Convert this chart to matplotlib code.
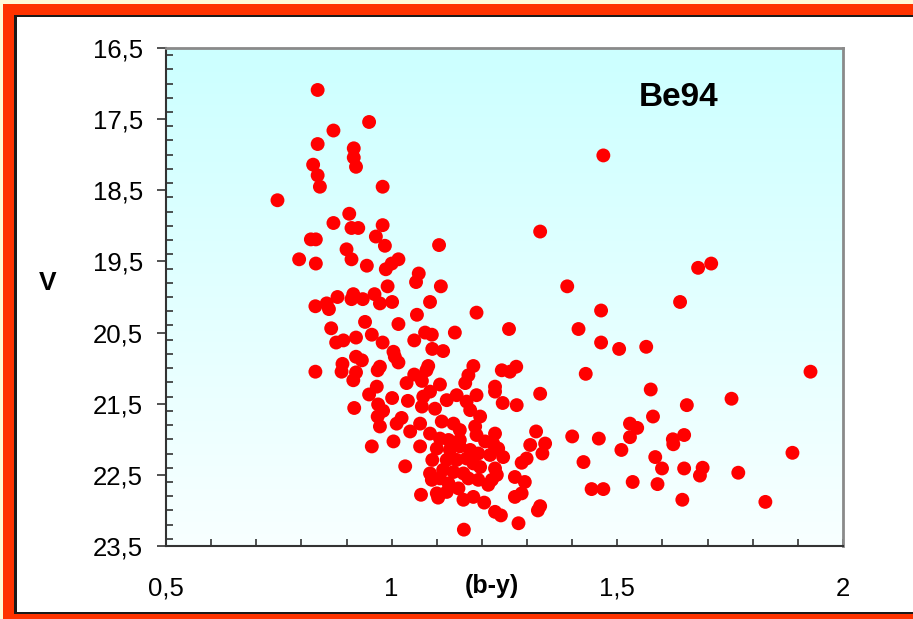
import numpy as np
import matplotlib
matplotlib.use("Agg")
import matplotlib.pyplot as plt
from matplotlib.patches import Rectangle
from matplotlib.ticker import MultipleLocator, FixedLocator, FixedFormatter

# ---- data (b-y colour, V magnitude) ----
b_y = [
    0.836, 0.950, 0.871, 0.836, 0.916, 0.916, 0.921, 0.826, 0.836, 0.841,
    0.980, 0.747, 0.906, 0.871, 0.911, 0.926, 0.980, 0.965, 0.821, 0.832,
    0.985, 1.105, 0.900, 0.911, 0.795, 0.832, 0.945, 1.015, 1.000, 0.987,
    1.060, 1.054, 0.991, 1.109, 0.831, 0.856, 0.861, 0.880, 0.915, 0.911,
    0.936, 0.962, 0.974, 1.001, 1.085, 1.188, 1.056, 0.866, 0.941, 1.015,
    0.956, 0.921, 0.877, 0.893, 0.980, 1.050, 1.074, 1.089, 1.140, 1.090,
    1.114, 1.004, 1.007, 1.015, 0.921, 0.934, 0.891, 0.889, 0.921, 0.915,
    0.974, 0.969, 0.831, 1.081, 1.077, 1.050, 1.033, 1.067, 1.107, 1.181,
    1.170, 1.163, 0.967, 0.950, 1.001, 1.036, 0.970, 0.917, 0.981, 0.969,
    0.974, 1.022, 1.011, 1.244, 1.262, 1.276, 1.229, 1.229, 1.246, 1.277,
    1.085, 1.070, 1.067, 1.096, 1.122, 1.144, 1.166, 1.174, 1.188, 1.196,
    1.041, 1.063, 1.111, 1.137, 1.151, 1.185, 1.085, 1.107, 1.126, 1.151,
    1.188, 1.229, 1.225, 1.207, 0.956, 1.004, 1.063, 1.100, 1.129, 1.151,
    1.174, 1.192, 1.218, 1.247, 1.236, 1.090, 1.122, 1.144, 1.166, 1.181,
    1.196, 1.030, 1.085, 1.114, 1.137, 1.159, 1.170, 1.229, 1.233, 1.222,
    1.214, 1.192, 1.089, 1.107, 1.126, 1.122, 1.148, 1.100, 1.103, 1.065,
    1.159, 1.181, 1.205, 1.229, 1.242, 1.160, 1.273, 1.273, 1.281, 1.260,
    1.414, 1.464, 1.464, 1.430, 1.329, 1.320, 1.307, 1.340, 1.334, 1.299,
    1.288, 1.400, 1.459, 1.425, 1.295, 1.288, 1.443, 1.469, 1.329, 1.324,
    1.469, 1.329, 1.679, 1.708, 1.389, 1.639, 1.504, 1.564, 1.928, 1.574,
    1.654, 1.753, 1.579, 1.528, 1.544, 1.528, 1.509, 1.623, 1.624, 1.648,
    1.888, 1.584, 1.599, 1.648, 1.689, 1.683, 1.768, 1.534, 1.589, 1.644,
    1.828,
]
V = [
    17.09, 17.54, 17.66, 17.85, 17.91, 18.04, 18.17, 18.14, 18.29, 18.45,
    18.45, 18.64, 18.83, 18.96, 19.03, 19.03, 18.99, 19.15, 19.19, 19.19,
    19.28, 19.27, 19.33, 19.47, 19.47, 19.53, 19.56, 19.47, 19.53, 19.61,
    19.67, 19.79, 19.85, 19.85, 20.13, 20.09, 20.17, 20.00, 19.96, 20.03,
    20.03, 19.96, 20.09, 20.07, 20.07, 20.22, 20.25, 20.44, 20.35, 20.38,
    20.53, 20.57, 20.64, 20.61, 20.64, 20.61, 20.50, 20.53, 20.50, 20.73,
    20.76, 20.77, 20.84, 20.92, 20.84, 20.89, 20.94, 21.05, 21.06, 21.17,
    20.98, 21.03, 21.05, 20.97, 21.03, 21.09, 21.21, 21.18, 21.23, 20.97,
    21.10, 21.21, 21.26, 21.37, 21.42, 21.46, 21.51, 21.56, 21.60, 21.68,
    21.82, 21.70, 21.78, 21.03, 21.05, 20.98, 21.26, 21.33, 21.49, 21.52,
    21.33, 21.40, 21.54, 21.57, 21.45, 21.38, 21.47, 21.59, 21.38, 21.68,
    21.89, 21.78, 21.75, 21.78, 21.87, 21.82, 21.92, 21.99, 22.01, 22.01,
    21.94, 21.92, 22.06, 22.03, 22.10, 22.03, 22.10, 22.13, 22.15, 22.10,
    22.15, 22.20, 22.22, 22.25, 22.13, 22.29, 22.29, 22.29, 22.27, 22.34,
    22.39, 22.38, 22.48, 22.43, 22.46, 22.48, 22.55, 22.41, 22.50, 22.57,
    22.64, 22.57, 22.57, 22.55, 22.62, 22.74, 22.69, 22.76, 22.82, 22.78,
    22.85, 22.81, 22.89, 23.02, 23.07, 23.27, 22.53, 22.81, 23.18, 20.45,
    20.45, 20.19, 20.64, 21.08, 21.36, 21.89, 22.08, 22.06, 22.20, 22.27,
    22.33, 21.96, 21.99, 22.32, 22.60, 22.76, 22.70, 22.70, 22.94, 23.00,
    18.01, 19.08, 19.59, 19.53, 19.85, 20.07, 20.73, 20.70, 21.05, 21.30,
    21.52, 21.43, 21.68, 21.78, 21.84, 21.97, 22.15, 22.00, 22.07, 21.94,
    22.19, 22.25, 22.41, 22.41, 22.40, 22.51, 22.47, 22.60, 22.63, 22.85,
    22.88,
]
x_ticks = [0.5, 1.0, 1.5, 2.0]
x_tick_labels = ["0,5", "1", "1,5", "2"]
y_ticks = [16.5, 17.5, 18.5, 19.5, 20.5, 21.5, 22.5, 23.5]
y_tick_labels = ["16,5", "17,5", "18,5", "19,5", "20,5", "21,5", "22,5", "23,5"]
title_text = "Be94"
x_label = "(b-y)"
y_label = "V"

plt.rcParams['font.family'] = ['Liberation Sans', 'DejaVu Sans']

W, H = 913, 619
fig = plt.figure(figsize=(W / 100, H / 100), dpi=100)
fig.patch.set_facecolor('white')


def band(x0, y0_top, x1, y1_top, color, z):
    """Rectangle given in figure pixels measured from the top-left corner."""
    fig.add_artist(Rectangle((x0 / W, (H - y1_top) / H), (x1 - x0) / W,
                             (y1_top - y0_top) / H, transform=fig.transFigure,
                             facecolor=color, edgecolor='none', zorder=z))


# pale outer margin
band(0, 0, W, 4, '#FFFAD8', -12)
band(0, 0, 3, H, '#FFFAD8', -12)
# orange frame (left, top, bottom)
band(3, 4, 14, H, '#FF3300', -11)
band(3, 4, W, 15, '#FF3300', -11)
band(3, 614, W, H, '#FF3300', -11)
# dark inner line
band(14, 15, 16.5, 614, '#1a1a1a', -10)
band(14, 15, W, 17, '#1a1a1a', -10)
band(14, 612, W, 614, '#1a1a1a', -10)
# white interior on the right-hand side, up to the cut edge
band(860, 17, W, 612, 'white', 50)

left, right, top, bottom = 166, 843, 48, 546
ax = fig.add_axes([left / W, (H - bottom) / H, (right - left) / W, (bottom - top) / H])
ax.set_facecolor('none')

# gradient background
c_top = np.array([0xCC, 0xFF, 0xFF]) / 255
c_bot = np.array([0xF8, 0xFF, 0xFF]) / 255
t = np.linspace(0, 1, 256)[:, None]
grad = (c_top[None, :] * (1 - t) + c_bot[None, :] * t)[:, None, :]
ax.imshow(grad, extent=[0, 1, 0, 1], transform=ax.transAxes, aspect='auto',
          zorder=0, interpolation='bilinear')

ax.scatter(b_y, V, s=100, c='#FF0000', edgecolors='none', zorder=3)

ax.set_xlim(0.5, 2.0)
ax.set_ylim(23.5, 16.5)
ax.set_aspect('auto')

ax.xaxis.set_major_locator(FixedLocator(x_ticks))
ax.xaxis.set_major_formatter(FixedFormatter(x_tick_labels))
ax.xaxis.set_minor_locator(MultipleLocator(0.1))
ax.yaxis.set_major_locator(FixedLocator(y_ticks))
ax.yaxis.set_major_formatter(FixedFormatter(y_tick_labels))
ax.yaxis.set_minor_locator(MultipleLocator(0.2))

ax.tick_params(axis='x', which='both', direction='in', length=5, width=1.2,
               color='#333333', pad=22, labelsize=18.5)
ax.tick_params(axis='y', which='major', direction='out', length=6.5, width=1.2,
               color='#333333', pad=10, labelsize=18.5)
ax.tick_params(axis='y', which='minor', direction='in', length=5, width=1.2,
               color='#333333')

for s in ['left', 'bottom']:
    ax.spines[s].set_color('#333333')
    ax.spines[s].set_linewidth(1.5)
for s in ['top', 'right']:
    ax.spines[s].set_color('#8a8a8a')
    ax.spines[s].set_linewidth(2)

fig.text(679 / W, (H - 97) / H, title_text, fontsize=24, fontweight='bold',
         ha='center', va='center')
fig.text(492 / W, (H - 586) / H, x_label, fontsize=18, fontweight='bold',
         ha='center', va='center')
fig.text(48 / W, (H - 283) / H, y_label, fontsize=19, fontweight='bold',
         ha='center', va='center')

fig.savefig('out.png', dpi=100, facecolor=fig.get_facecolor())
